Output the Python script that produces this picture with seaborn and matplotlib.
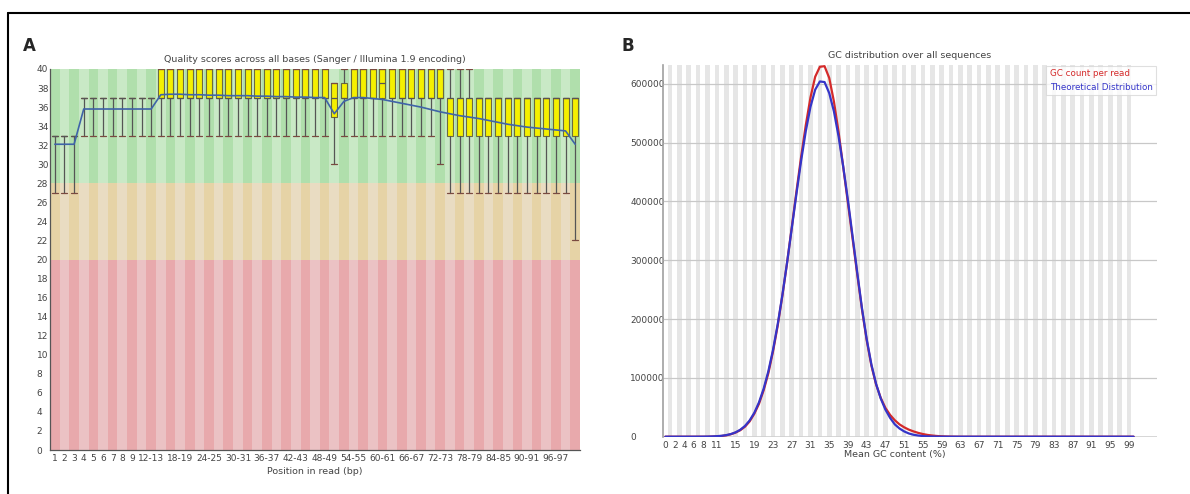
import numpy as np
import pandas as pd
import matplotlib
matplotlib.use("Agg")
import matplotlib.pyplot as plt
from matplotlib.patches import Rectangle
from matplotlib.lines import Line2D
import seaborn as sns

# ---------------- Panel A: per base sequence quality ----------------
# 55 columns: bases 1..9, then 10-11 ... 98-99, then 100
n_cols = 55
x_tick_pos = [0, 1, 2, 3, 4, 5, 6, 7, 8, 10, 13, 16, 19, 22, 25, 28, 31, 34, 37, 40, 43, 46, 49, 52]
x_tick_labels = ["1", "2", "3", "4", "5", "6", "7", "8", "9", "12-13", "18-19", "24-25",
                 "30-31", "36-37", "42-43", "48-49", "54-55", "60-61", "66-67", "72-73",
                 "78-79", "84-85", "90-91", "96-97"]

# whisker (10th/90th pct), box (25th/75th pct) and median per column
q90 = [33] * 3 + [37] * 8 + [40] * 18 + [38.5] + [40] * 14 + [37] * 11
q75 = [33] * 3 + [37] * 8 + [40] * 18 + [38.5, 38.5] + [40] * 10 + [37] * 14
q50 = [33] * 3 + [37] * 31 + [38.5] + [37] * 20
q25 = [33] * 3 + [37] * 26 + [35] + [37] * 11 + [33] * 14
q10 = [27] * 3 + [33] * 26 + [30] + [33] * 10 + [30] + [27] * 13 + [22]
mean_q = [32.1, 32.1, 32.1,
          35.8, 35.8, 35.8, 35.8, 35.8, 35.8, 35.8, 35.8,
          37.3, 37.35, 37.35, 37.3, 37.3, 37.25, 37.25, 37.2, 37.2, 37.2,
          37.15, 37.15, 37.1, 37.1, 37.05, 37.05, 37.0, 37.0,
          35.3, 36.6,
          37.0, 37.0, 36.9, 36.8, 36.6, 36.4, 36.2, 36.0, 35.75, 35.5,
          35.3, 35.1, 34.95, 34.8, 34.6, 34.4, 34.2, 34.05, 33.9, 33.8,
          33.7, 33.6, 33.5, 32.1]

# ---------------- Panel B: GC distribution ----------------
gc_pct = list(range(101))
gc_count = [0, 0, 0, 0, 0, 0, 0, 0, 0, 0,
            300, 600, 1200, 2300, 4200, 7000, 11000, 17000, 26000, 39000,
            56000, 79000, 108000, 145000, 189000, 240000, 296000, 356000, 417000, 476000,
            530000, 577000, 612000, 629000, 630000, 610000, 570000, 518000, 458000, 397000,
            336000, 275000, 216000, 164000, 121000, 89000, 66000, 49000, 37000, 28000,
            21000, 16000, 12000, 9000, 6500, 4500, 3000, 2000, 1200, 700,
            400, 200, 100, 0, 0, 0, 0, 0, 0, 0,
            0, 0, 0, 0, 0, 0, 0, 0, 0, 0,
            0, 0, 0, 0, 0, 0, 0, 0, 0, 0,
            0, 0, 0, 0, 0, 0, 0, 0, 0, 0, 0]
theoretical = [0, 0, 0, 0, 0, 0, 25, 60, 120, 250,
               490, 880, 1560, 2700, 4500, 7400, 11800, 18200, 27600, 40600,
               58400, 81700, 111300, 147800, 191300, 241200, 296000, 354400, 413000, 469400,
               519700, 561000, 590000, 604000, 603000, 584200, 553200, 510400, 458600, 401700,
               340000, 278000, 218000, 166000, 123000, 90000, 65000, 46000, 32000, 21000,
               14000, 9000, 5500, 3300, 2000, 1100, 600, 300, 150, 80,
               40, 0, 0, 0, 0, 0, 0, 0, 0, 0,
               0, 0, 0, 0, 0, 0, 0, 0, 0, 0,
               0, 0, 0, 0, 0, 0, 0, 0, 0, 0,
               0, 0, 0, 0, 0, 0, 0, 0, 0, 0, 0]
gc_ticks = [0, 2, 4, 6, 8, 11, 15, 19, 23, 27, 31, 35, 39, 43, 47, 51, 55, 59, 63, 67, 71,
            75, 79, 83, 87, 91, 95, 99]

sns.set_style("white")
plt.rcParams["font.family"] = ["DejaVu Sans"]
text_col = "#444444"

fig = plt.figure(figsize=(11.9, 4.94), dpi=100)
W, H = 1190, 494


def px_axes(x0, y0, x1, y1):
    return fig.add_axes([x0 / W, 1 - y1 / H, (x1 - x0) / W, (y1 - y0) / H])


# ---------- A ----------
axA = px_axes(50, 69, 580, 450)
bands = [(0, 20, ("#e8a9ac", "#ebc2c4")),
         (20, 28, ("#e6d3a6", "#e9dcc2")),
         (28, 40, ("#b0dfac", "#c9e9c6"))]
for i in range(n_cols):
    for lo, hi, cols in bands:
        axA.add_patch(Rectangle((i - 0.5, lo), 1, hi - lo, color=cols[i % 2], lw=0, zorder=0))

stats = [dict(whislo=q10[i], q1=q25[i], med=q50[i], q3=q75[i], whishi=q90[i])
         for i in range(n_cols)]
axA.bxp(stats, positions=list(range(n_cols)), widths=0.62, patch_artist=True,
        showfliers=False, manage_ticks=False,
        boxprops=dict(facecolor="#f5f000", edgecolor="#6b6b40", linewidth=0.8),
        whiskerprops=dict(color="#555555", linewidth=0.9),
        capprops=dict(color="#7a4a40", linewidth=0.9),
        medianprops=dict(color="#555555", linewidth=0.9),
        capwidths=0.62)
sns.lineplot(x=list(range(n_cols)), y=mean_q, ax=axA, color="#3f64a8", linewidth=1.2, zorder=5)

axA.set_xlim(-0.5, n_cols - 0.5)
axA.set_ylim(0, 40)
axA.set_yticks(range(0, 41, 2))
axA.set_xticks(x_tick_pos)
axA.set_xticklabels(x_tick_labels)
axA.tick_params(length=0, labelsize=6.5, colors=text_col)
axA.tick_params(axis="x", pad=3)
axA.tick_params(axis="y", pad=9.5)
for lab in axA.get_yticklabels():
    lab.set_horizontalalignment("left")
for s in ["top", "right"]:
    axA.spines[s].set_visible(False)
for s in ["left", "bottom"]:
    axA.spines[s].set_color("#555555")
    axA.spines[s].set_linewidth(0.9)
axA.set_title("Quality scores across all bases (Sanger / Illumina 1.9 encoding)",
              fontsize=6.8, color=text_col, pad=5)
axA.set_xlabel("Position in read (bp)", fontsize=6.8, color=text_col, labelpad=3)
axA.set_ylabel("")

# ---------- B ----------
axB = px_axes(663, 65, 1157, 436.7)
for i in range(1, 101, 2):
    axB.axvspan(i - 0.5, i + 0.5, color="#e6e6e6", lw=0, zorder=0)
for v in range(100000, 600001, 100000):
    axB.axhline(v, color="#c8c8c8", lw=0.9, zorder=1)
axB.axhline(0, color="#d0d0d0", lw=1.2, zorder=1)

gc_df = pd.DataFrame({
    "gc": gc_pct + gc_pct,
    "count": gc_count + theoretical,
    "series": ["GC count per read"] * len(gc_pct) + ["Theoretical Distribution"] * len(gc_pct),
})
palette = {"GC count per read": "#d42a2a", "Theoretical Distribution": "#3535c8"}
sns.lineplot(data=gc_df, x="gc", y="count", hue="series", palette=palette, ax=axB,
             linewidth=1.6, zorder=3, legend=False)

axB.set_xlim(-0.5, 105)
axB.set_ylim(0, 632000)
axB.set_xticks(gc_ticks)
axB.set_yticks(range(0, 600001, 100000))
axB.tick_params(length=0, labelsize=6.5, colors=text_col)
axB.tick_params(axis="y", pad=23.5)
axB.tick_params(axis="x", pad=3)
for lab in axB.get_yticklabels():
    lab.set_horizontalalignment("left")
for s in ["top", "right", "bottom"]:
    axB.spines[s].set_visible(False)
axB.spines["left"].set_color("#a0a0a0")
axB.spines["left"].set_linewidth(1.2)
axB.set_title("GC distribution over all sequences", fontsize=6.8, color=text_col, pad=5)
axB.set_xlabel("Mean GC content (%)", fontsize=6.8, color=text_col, labelpad=3)
axB.xaxis.set_label_coords(0.47, -0.035)
axB.set_ylabel("")

handles = [Line2D([], [], color=c, lw=0) for c in palette.values()]
leg = axB.legend(handles, list(palette.keys()), loc="upper right", fontsize=6.3,
                 handlelength=0, handletextpad=0, borderpad=0.4, labelspacing=0.5,
                 frameon=True, fancybox=False, borderaxespad=0.1)
leg.get_frame().set_edgecolor("#d8d8d8")
leg.get_frame().set_linewidth(0.8)
for txt, c in zip(leg.get_texts(), palette.values()):
    txt.set_color(c)

# panel letters and frame
fig.text(29 / W, 1 - 46 / H, "A", fontsize=12, fontweight="bold", ha="center", va="center")
fig.text(628 / W, 1 - 46 / H, "B", fontsize=12, fontweight="bold", ha="center", va="center")
fig.add_artist(Line2D([8 / W, 8 / W], [1 - 13 / H, 0.0], color="black", lw=1.5))
fig.add_artist(Line2D([8 / W, 1.0], [1 - 13 / H, 1 - 13 / H], color="black", lw=1.5))

fig.savefig("out.png", dpi=100)
